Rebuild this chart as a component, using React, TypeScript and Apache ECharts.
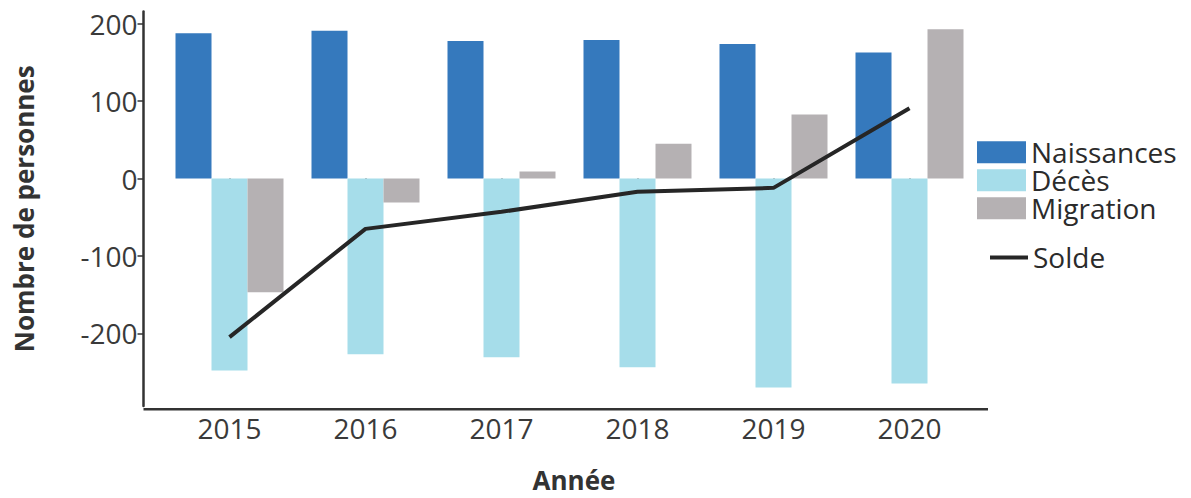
import React, { useEffect, useRef } from "react";
import * as echarts from "echarts";

const years = ["2015", "2016", "2017", "2018", "2019", "2020"];
const naissances = [188, 191, 178, 179, 174, 163];
const deces = [-248, -227, -231, -244, -270, -265];
const migration = [-147, -31, 9, 45, 83, 193];
const solde = [-205, -65, -43, -17, -12, 91];
const yTicks = [-200, -100, 0, 100, 200];

const FONT = "'Open Sans', 'Noto Sans', sans-serif";

export default function App() {
  const ref = useRef<HTMLDivElement>(null);
  useEffect(() => {
    if (!ref.current) return;
    const chart = echarts.init(ref.current, undefined, { renderer: "svg" });
    const gridLeft = 161.5;
    const gridRight = 213.5;
    const axisY = 409.3;
    chart.setOption({
      animation: false,
      backgroundColor: "#ffffff",
      textStyle: { fontFamily: FONT },
      grid: { left: gridLeft, right: gridRight, top: 11.5, bottom: 498 - axisY },
      xAxis: {
        type: "category",
        data: years,
        axisLine: { show: false },
        axisTick: { show: true, alignWithLabel: true, length: 6, lineStyle: { color: "#333", width: 1.5 } },
        axisLabel: { fontSize: 28, color: "#3a3a3a", margin: 8, fontFamily: FONT },
        name: "Année",
        nameLocation: "middle",
        nameGap: 61,
        nameTextStyle: { fontSize: 26, fontWeight: "bold", color: "#333", fontFamily: FONT, padding: [0, 0, 0, 9] },
      },
      yAxis: {
        type: "value",
        min: -294,
        max: 216,
        offset: gridLeft - 143.5,
        splitLine: { show: false },
        axisLine: { show: true, lineStyle: { color: "#333", width: 2.5 } },
        axisTick: { show: true, length: 6, customValues: yTicks, lineStyle: { color: "#333", width: 1.5 } },
        axisLabel: { fontSize: 28, color: "#3a3a3a", margin: 6, customValues: yTicks, fontFamily: FONT },
        name: "Nombre de personnes",
        nameLocation: "middle",
        nameGap: 107,
        nameTextStyle: { fontSize: 26, fontWeight: "bold", color: "#333", fontFamily: FONT },
      },
      legend: [
        {
          data: ["Naissances", "Décès", "Migration"],
          orient: "vertical",
          left: 977,
          top: 138.2,
          padding: 0,
          itemWidth: 49,
          itemHeight: 22,
          itemGap: 0,
          icon: "rect",
          textStyle: { fontSize: 28, color: "#2b2b2b", fontFamily: FONT },
        },
        {
          data: [{ name: "Solde", icon: "rect" }],
          orient: "vertical",
          left: 990,
          top: 243.4,
          padding: 0,
          itemWidth: 38,
          itemHeight: 4,
          textStyle: { fontSize: 28, color: "#2b2b2b", fontFamily: FONT },
        },
      ],
      graphic: [
        {
          type: "line",
          shape: { x1: 143.5, y1: axisY, x2: 988, y2: axisY },
          style: { stroke: "#333", lineWidth: 2.5 },
          z: 10,
        },
      ],
      series: [
        { name: "Naissances", type: "bar", data: naissances, barWidth: 36, barGap: "0%", itemStyle: { color: "#3579BD" } },
        { name: "Décès", type: "bar", data: deces, barWidth: 36, barGap: "0%", itemStyle: { color: "#A6DDEA" } },
        { name: "Migration", type: "bar", data: migration, barWidth: 36, barGap: "0%", itemStyle: { color: "#B5B1B3" } },
        {
          name: "Solde",
          type: "line",
          data: solde,
          showSymbol: false,
          symbol: "none",
          lineStyle: { color: "#262626", width: 4 },
          itemStyle: { color: "#262626" },
          z: 5,
        },
      ],
    });
    return () => chart.dispose();
  }, []);
  return (
    <div
      ref={ref}
      style={{ position: "fixed", left: 0, top: 0, width: 1191, height: 498, background: "#fff" }}
    />
  );
}
